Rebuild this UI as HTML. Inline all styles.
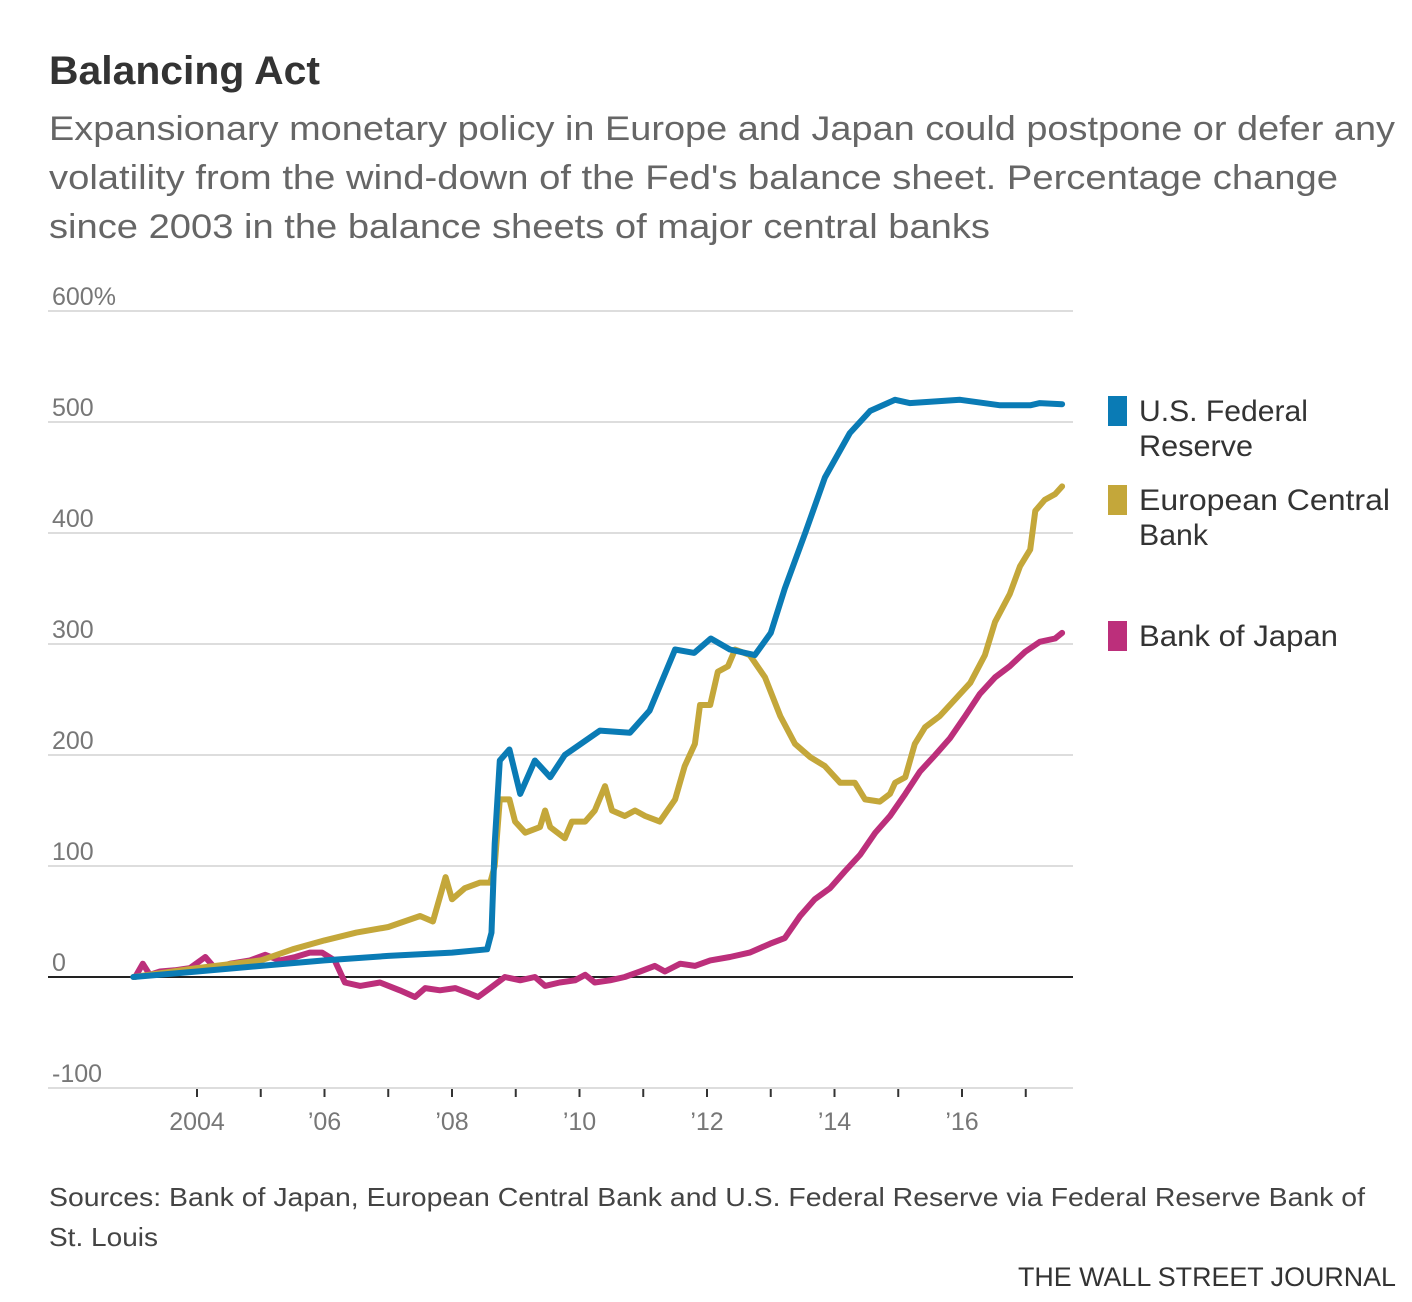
<!DOCTYPE html>
<html><head><meta charset="utf-8">
<style>
html,body{margin:0;padding:0;background:#fff;}
body{width:1412px;height:1297px;overflow:hidden;font-family:"Liberation Sans",sans-serif;}
svg text{font-family:"Liberation Sans",sans-serif;}
</style></head>
<body>
<svg id="chart" width="1412" height="1297" viewBox="0 0 1412 1297">
<text x="49" y="84" font-size="40" font-weight="bold" fill="#333" textLength="271" lengthAdjust="spacingAndGlyphs">Balancing Act</text>
<g font-size="34" fill="#666">
<text x="49" y="140" textLength="1346" lengthAdjust="spacingAndGlyphs">Expansionary monetary policy in Europe and Japan could postpone or defer any</text>
<text x="49" y="189" textLength="1289" lengthAdjust="spacingAndGlyphs">volatility from the wind-down of the Fed's balance sheet. Percentage change</text>
<text x="49" y="238" textLength="941" lengthAdjust="spacingAndGlyphs">since 2003 in the balance sheets of major central banks</text>
</g>
<g id="grid"></g>
<g id="yticks"></g>
<g id="xticks"></g>
<g id="series"></g>
<g font-size="30" fill="#333">
<g><rect x="1108" y="396" width="19" height="30" fill="#0a7bb5"/><text x="1139" y="421" textLength="169" lengthAdjust="spacingAndGlyphs">U.S. Federal</text><text x="1139" y="456" textLength="114" lengthAdjust="spacingAndGlyphs">Reserve</text></g>
<g><rect x="1108" y="485" width="19" height="30" fill="#c4a73a"/><text x="1139" y="510" textLength="251" lengthAdjust="spacingAndGlyphs">European Central</text><text x="1139" y="545" textLength="69" lengthAdjust="spacingAndGlyphs">Bank</text></g>
<g><rect x="1108" y="621" width="19" height="30" fill="#bc2f7b"/><text x="1139" y="646" textLength="199" lengthAdjust="spacingAndGlyphs">Bank of Japan</text></g>
</g>
<g font-size="26" fill="#444">
<text x="49" y="1206" textLength="1316" lengthAdjust="spacingAndGlyphs">Sources: Bank of Japan, European Central Bank and U.S. Federal Reserve via Federal Reserve Bank of</text>
<text x="49" y="1246" textLength="109" lengthAdjust="spacingAndGlyphs">St. Louis</text>
</g>
<text x="1396" y="1286" text-anchor="end" font-size="27" fill="#333" textLength="378" lengthAdjust="spacingAndGlyphs">THE WALL STREET JOURNAL</text>
</svg>
<script>
const yTicks=[600,500,400,300,200,100,0,-100];
const yTickLabels=["600%","500","400","300","200","100","0","-100"];
const xTickYears=[2004,2006,2008,2010,2012,2014,2016];
const xTickLabels=["2004","\u201906","\u201908","\u201910","\u201912","\u201914","\u201916"];
const fedDates=[2003.0,2004,2005,2006,2007,2008,2008.55,2008.62,2008.67,2008.75,2008.9,2009.07,2009.3,2009.54,2009.77,2010.32,2010.79,2011.1,2011.5,2011.8,2012.06,2012.36,2012.75,2013.0,2013.22,2013.54,2013.85,2014.24,2014.56,2014.95,2015.18,2015.97,2016.6,2017.07,2017.22,2017.57];
const fedValues=[0,5,10,15,19,22,25,40,120,195,205,165,195,180,200,222,220,240,295,292,305,295,290,310,350,400,450,490,510,520,517,520,515,515,517,516];
const ecbDates=[2003.0,2004,2005,2005.5,2006,2006.5,2007,2007.5,2007.7,2007.9,2008.0,2008.2,2008.44,2008.6,2008.67,2008.75,2008.9,2008.99,2009.15,2009.38,2009.46,2009.54,2009.77,2009.88,2010.09,2010.24,2010.4,2010.51,2010.71,2010.87,2011.03,2011.26,2011.5,2011.65,2011.81,2011.89,2012.05,2012.17,2012.33,2012.44,2012.67,2012.91,2013.15,2013.38,2013.62,2013.85,2014.09,2014.32,2014.48,2014.71,2014.87,2014.95,2015.11,2015.26,2015.42,2015.65,2015.89,2016.13,2016.36,2016.52,2016.75,2016.91,2017.07,2017.15,2017.3,2017.46,2017.57];
const ecbValues=[0,8,15,25,33,40,45,55,50,90,70,80,85,85,100,160,160,140,130,135,150,135,125,140,140,150,172,150,145,150,145,140,160,190,210,245,245,275,280,295,290,270,235,210,198,190,175,175,160,158,165,175,180,210,225,235,250,265,290,320,345,370,385,420,430,435,442];
const bojDates=[2003.03,2003.15,2003.26,2003.42,2003.65,2003.89,2004.13,2004.28,2004.52,2004.83,2005.07,2005.3,2005.54,2005.77,2005.96,2006.16,2006.32,2006.56,2006.87,2007.18,2007.42,2007.58,2007.81,2008.05,2008.28,2008.41,2008.6,2008.83,2009.07,2009.3,2009.46,2009.69,2009.93,2010.09,2010.24,2010.48,2010.71,2010.95,2011.18,2011.34,2011.58,2011.81,2012.05,2012.36,2012.67,2012.99,2013.22,2013.46,2013.69,2013.93,2014.16,2014.4,2014.64,2014.87,2015.11,2015.34,2015.58,2015.81,2016.05,2016.28,2016.52,2016.75,2016.99,2017.22,2017.46,2017.57];
const bojValues=[0,12,2,5,6,8,18,8,12,15,20,15,18,22,22,15,-5,-8,-5,-12,-18,-10,-12,-10,-15,-18,-10,0,-3,0,-8,-5,-3,2,-5,-3,0,5,10,5,12,10,15,18,22,30,35,55,70,80,95,110,130,145,165,185,200,215,235,255,270,280,293,302,305,310];

const NS="http://www.w3.org/2000/svg";
function yS(v){return 977-v*1.11;}
function xS(yr){return 197+(yr-2004)*63.75;}
function mk(tag,attrs,parent){const e=document.createElementNS(NS,tag);for(const k in attrs)e.setAttribute(k,attrs[k]);parent.appendChild(e);return e;}
const grid=document.getElementById('grid'),yt=document.getElementById('yticks'),xt=document.getElementById('xticks'),ser=document.getElementById('series');
yTicks.forEach((v,i)=>{
  const l=mk('line',{x1:48,x2:1073,y1:yS(v),y2:yS(v),stroke:v===0?'#222':'#ddd','stroke-width':2},grid);
  
  
  const t=mk('text',{x:52,y:yS(v)-6,'font-size':25,fill:'#777'},yt);
  t.textContent=yTickLabels[i];
  
  
});
for(let yr=2004;yr<=2017;yr++){
  const l=mk('line',{x1:xS(yr),x2:xS(yr),y1:1089,y2:1097,stroke:'#333','stroke-width':2},xt);
  
  
}
xTickYears.forEach((yr,i)=>{
  const t=mk('text',{x:xS(yr),y:1130,'font-size':25,fill:'#777','text-anchor':'middle'},xt);
  t.textContent=xTickLabels[i];
  
  
});
function line(d,v,c,name){
  const p=d.map((yr,i)=>(i?'L':'M')+xS(yr).toFixed(1)+' '+yS(v[i]).toFixed(1)).join(' ');
  const e=mk('path',{d:p,fill:'none',stroke:c,'stroke-width':6,'stroke-linejoin':'round','stroke-linecap':'round'},ser);
  
  
}
line(bojDates,bojValues,'#bc2f7b','boj-line');
line(ecbDates,ecbValues,'#c4a73a','ecb-line');
line(fedDates,fedValues,'#0a7bb5','fed-line');
</script>
</body></html>
